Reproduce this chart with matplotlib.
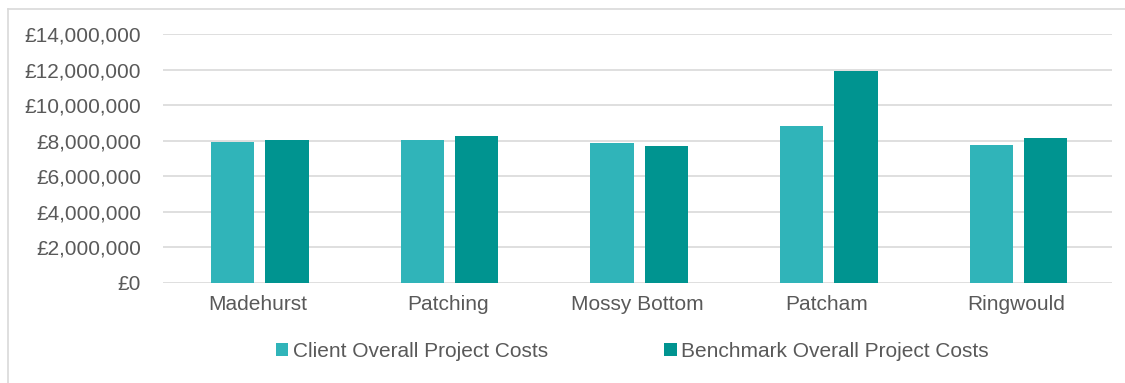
import numpy as np
import matplotlib.pyplot as plt
from matplotlib.ticker import FuncFormatter
from matplotlib.lines import Line2D

# Data (GBP)
sites = ["Madehurst", "Patching", "Mossy Bottom", "Patcham", "Ringwould"]
client_costs = [7950000, 8040000, 7860000, 8820000, 7750000]
benchmark_costs = [8040000, 8270000, 7670000, 11920000, 8140000]
series_names = ["Client Overall Project Costs", "Benchmark Overall Project Costs"]

client_color = "#30B4B9"
bench_color = "#009490"
text_color = "#595959"
grid_color = "#D9D9D9"
fs = 15

plt.rcParams["font.family"] = ["Liberation Sans", "DejaVu Sans"]

fig = plt.figure(figsize=(11.25, 3.83), dpi=100)
ax = fig.add_axes([0.145, 0.262, 0.843, 0.649])

x = np.arange(len(sites))
w = 0.228
gap = 0.058
ax.bar(x - (w + gap) / 2 + 0.01, client_costs, w, color=client_color, label=series_names[0], zorder=3)
ax.bar(x + (w + gap) / 2 + 0.01, benchmark_costs, w, color=bench_color, label=series_names[1], zorder=3)

ax.set_xlim(-0.5, len(sites) - 0.5)
ax.set_ylim(0, 14000000)
ax.set_yticks(np.arange(0, 14000001, 2000000))
ax.yaxis.set_major_formatter(FuncFormatter(lambda v, p: "£{:,.0f}".format(v)))
ax.set_xticks(x)
ax.set_xticklabels(sites)

ax.grid(axis="y", color=grid_color, linewidth=1.2, zorder=0)
for s in ax.spines.values():
    s.set_visible(False)
ax.tick_params(axis="both", length=0, labelsize=fs, colors=text_color)
ax.tick_params(axis="y", pad=16)
ax.tick_params(axis="x", pad=9)

leg = fig.legend(loc="center", bbox_to_anchor=(0.562, 0.083), ncol=2, frameon=False,
                 fontsize=fs, handlelength=0.6, handleheight=0.6, handletextpad=0.2,
                 columnspacing=5.6)
for t in leg.get_texts():
    t.set_color(text_color)

# chart border (top and left visible)
fig.add_artist(Line2D([8 / 1125, 1], [1 - 9 / 383, 1 - 9 / 383], color=grid_color, lw=1.2))
fig.add_artist(Line2D([8 / 1125, 8 / 1125], [0, 1 - 9 / 383], color=grid_color, lw=1.2))

fig.savefig("out.png", dpi=100)
